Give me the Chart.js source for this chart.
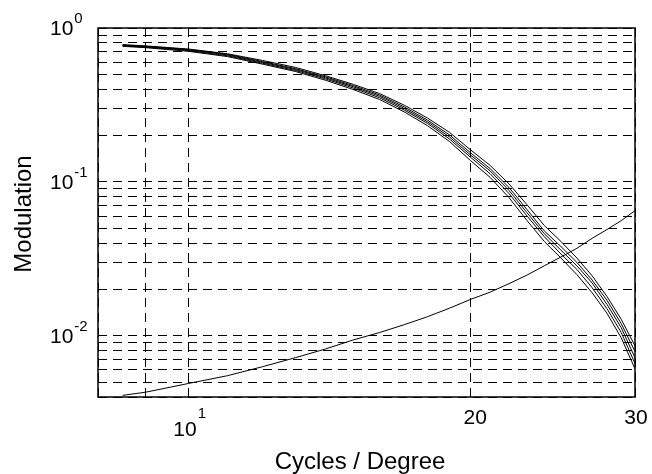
<!DOCTYPE html>
<html>
<head>
<meta charset="utf-8">
<script src="https://cdn.jsdelivr.net/npm/chart.js@4"></script>
<style>
  html, body { margin: 0; padding: 0; background: #fff; }
  #wrap { width: 652px; height: 474px; }
</style>
</head>
<body>
<div id="wrap"><canvas id="chart" width="652" height="474"></canvas></div>
<script>
// ── data ────────────────────────────────────────────────────────────────────
const freqs = [8.5, 9, 10, 11, 12, 13, 14, 15, 16, 17, 18, 19, 20, 21, 22, 23, 24, 25, 26, 27, 28, 29, 30];

// five modulation transfer curves, falling
const mtfA = [0.78, 0.765, 0.73, 0.68, 0.615, 0.555, 0.49, 0.43, 0.375, 0.315, 0.26, 0.21, 0.162, 0.128, 0.097, 0.071, 0.052, 0.041, 0.032, 0.0245, 0.018, 0.0128, 0.0086];
const mtfB = [0.775, 0.76, 0.725, 0.675, 0.605, 0.545, 0.482, 0.422, 0.367, 0.307, 0.252, 0.202, 0.155, 0.122, 0.092, 0.066, 0.048, 0.038, 0.030, 0.023, 0.017, 0.012, 0.0079];
const mtfC = [0.77, 0.755, 0.72, 0.668, 0.598, 0.538, 0.475, 0.415, 0.36, 0.30, 0.246, 0.196, 0.150, 0.118, 0.088, 0.063, 0.046, 0.036, 0.0285, 0.022, 0.016, 0.0113, 0.0072];
const mtfD = [0.765, 0.75, 0.713, 0.66, 0.59, 0.53, 0.467, 0.407, 0.352, 0.293, 0.24, 0.19, 0.145, 0.113, 0.084, 0.060, 0.044, 0.034, 0.027, 0.0205, 0.015, 0.0105, 0.0066];
const mtfE = [0.76, 0.745, 0.705, 0.652, 0.582, 0.522, 0.458, 0.398, 0.343, 0.285, 0.232, 0.183, 0.138, 0.107, 0.079, 0.056, 0.041, 0.032, 0.025, 0.019, 0.014, 0.0097, 0.0061];

// rising threshold curve
const threshold = [0.0041, 0.0043, 0.0049, 0.0055, 0.0063, 0.0072, 0.0082, 0.0094, 0.0105, 0.0118, 0.0133, 0.0151, 0.0172, 0.0192, 0.0218, 0.0248, 0.0285, 0.0325, 0.037, 0.043, 0.049, 0.056, 0.065];

// grid lines and tick labels
const xGrid = [8, 9, 10, 20, 30];
const yGrid = [0.004, 0.005, 0.006, 0.007, 0.008, 0.009, 0.01, 0.02, 0.03, 0.04, 0.05, 0.06, 0.07, 0.08, 0.09,
  0.1, 0.2, 0.3, 0.4, 0.5, 0.6, 0.7, 0.8, 0.9, 1];
const xTickValues = [10, 20, 30];
const xTickBase = ['10', '20', '30'];
const xTickExp = ['1', '', ''];
const xTickNudge = [1, 5, 1];
const yTickValues = [1, 0.1, 0.01];
const yTickExp = ['0', '-1', '-2'];

const FONT = '"Liberation Sans", Arial, Helvetica, sans-serif';
const TICK_PX = 21;
const EXP_PX = 15;
const TITLE_PX = 24;

/** @param {number[]} ys */
function _series(ys) {
  return {
    data: freqs.map((x, i) => ({ x, y: ys[i] })),
    borderColor: '#000',
    borderWidth: 1,
    pointRadius: 0,
    tension: 0,
    fill: false,
  };
}

// ── labels, axis titles and box ─────────────────────────────────────────────
const decorPlugin = {
  id: 'decor',
  afterDraw(chart) {
    const { ctx, chartArea: a, scales } = chart;
    ctx.save();
    ctx.strokeStyle = '#000';
    ctx.lineWidth = 1.5;
    ctx.strokeRect(a.left, a.top, a.right - a.left, a.bottom - a.top);

    ctx.fillStyle = '#000';
    ctx.textAlign = 'left';
    ctx.textBaseline = 'alphabetic';

    // y tick labels: 10^n
    yTickValues.forEach((v, i) => {
      const py = scales.y.getPixelForValue(v);
      ctx.font = `${TICK_PX}px ${FONT}`;
      ctx.fillText('10', 50, py + 7);
      const w = ctx.measureText('10').width;
      ctx.font = `${EXP_PX}px ${FONT}`;
      ctx.fillText(yTickExp[i], 50 + w + 1, py - 5);
    });

    // x tick labels
    xTickValues.forEach((v, i) => {
      const px = scales.x.getPixelForValue(v) + xTickNudge[i];
      ctx.font = `${TICK_PX}px ${FONT}`;
      const wb = ctx.measureText(xTickBase[i]).width;
      if (xTickExp[i]) {
        ctx.font = `${EXP_PX}px ${FONT}`;
        const we = ctx.measureText(xTickExp[i]).width;
        const left = px - (wb + 1 + we) / 2;
        ctx.font = `${TICK_PX}px ${FONT}`;
        ctx.fillText(xTickBase[i], left, 436);
        ctx.font = `${EXP_PX}px ${FONT}`;
        ctx.fillText(xTickExp[i], left + wb + 1, 418);
      } else {
        ctx.fillText(xTickBase[i], px - wb / 2, 424);
      }
    });

    // axis titles
    ctx.font = `${TITLE_PX}px ${FONT}`;
    ctx.textAlign = 'center';
    ctx.fillText('Cycles / Degree', 360, 469);
    ctx.translate(31, 214);
    ctx.rotate(-Math.PI / 2);
    ctx.fillText('Modulation', 0, 0);
    ctx.restore();
  },
};

const gridStyle = { color: '#000', lineWidth: 1, drawTicks: false };
const borderStyle = { display: false, dash: [9, 6] };

new Chart(document.getElementById('chart'), {
  type: 'line',
  data: {
    datasets: [mtfA, mtfB, mtfC, mtfD, mtfE, threshold].map(_series),
  },
  options: {
    responsive: false,
    animation: false,
    devicePixelRatio: 1,
    layout: { padding: { left: 0, right: 17, top: 28, bottom: 0 } },
    plugins: { legend: { display: false }, tooltip: { enabled: false } },
    scales: {
      x: {
        type: 'logarithmic',
        min: 8,
        max: 30,
        bounds: 'data',
        grid: gridStyle,
        border: borderStyle,
        ticks: { display: false },
        afterBuildTicks: (scale) => {
          scale.ticks = xGrid.map((value) => ({ value }));
        },
        afterFit: (scale) => {
          scale.height = 77;
        },
      },
      y: {
        type: 'logarithmic',
        min: 0.004,
        max: 1,
        bounds: 'data',
        grid: gridStyle,
        border: borderStyle,
        ticks: { display: false },
        afterBuildTicks: (scale) => {
          scale.ticks = yGrid.map((value) => ({ value }));
        },
        afterFit: (scale) => {
          scale.width = 98;
        },
      },
    },
  },
  plugins: [decorPlugin],
});
</script>
</body>
</html>
